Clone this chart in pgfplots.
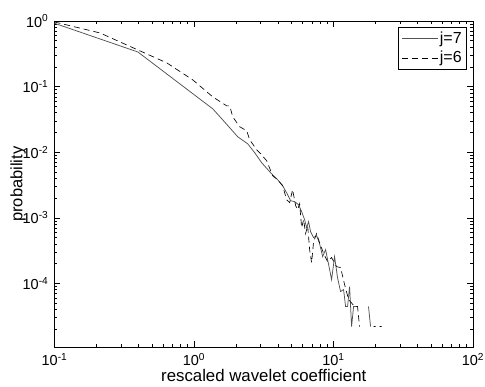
\documentclass[border=0pt]{standalone}
\usepackage{fontspec}
\setmainfont{Liberation Sans}
\usepackage{pgfplots}
\pgfplotsset{compat=1.18}
\begin{document}
\begin{tikzpicture}
\useasboundingbox (-54.5pt,-38.7pt) rectangle (430.5pt,347.3pt);
\begin{axis}[
  at={(0,0)}, anchor=south west,
  scale only axis, width=418.5pt, height=326.3pt,
  xmode=log, ymode=log, log basis x=10, log basis y=10,
  xmin=0.1, xmax=100, ymin=1.06e-5, ymax=1,
  axis line style={line width=0.7pt},
  tick style={black, line width=0.5pt},
  major tick length=6pt, minor tick length=3pt,
  tick align=inside,
  xticklabel={\pgfmathparse{int(round(\tick))}10\textsuperscript{\pgfmathresult}},
  yticklabel={\pgfmathparse{int(round(\tick))}10\textsuperscript{\pgfmathresult}},
  xticklabel style={font=\fontsize{14.5}{17}\selectfont, anchor=base, inner sep=0pt, yshift=-18pt},
  yticklabel style={font=\fontsize{14.5}{17}\selectfont, anchor=east, inner sep=0pt, xshift=-6pt},
  xlabel={rescaled wavelet coefficient},
  ylabel={probability},
  xlabel style={font=\fontsize{16.8}{19}\selectfont, at={(axis description cs:0.5,0)}, anchor=base, inner sep=0pt, yshift=-34pt},
  every axis y label/.style={font=\fontsize{16.5}{19}\selectfont, at={(axis description cs:-0.068,0.5)}, rotate=90, anchor=south, inner sep=0pt},
  unbounded coords=jump,
  legend style={at={(1,1)}, anchor=north east, xshift=-6pt, yshift=-6pt,
    font=\fontsize{16}{19}\selectfont, draw=black, line width=0.6pt,
    inner xsep=3pt, inner ysep=3pt, row sep=2pt},
  legend cell align=left,
  legend image code/.code={\draw[#1] (0pt,0pt) -- (36pt,0pt);},
]
\addplot[black!68, line width=0.75pt] coordinates {
(0.1,0.923)(0.396,0.337)(1.363,0.0458)(1.607,0.0311)(2.06,0.01715)(2.427,0.01342)
(2.725,0.0098)(3.057,0.0069)(3.488,0.00504)(3.98,0.0038)(4.32,0.00308)(4.61,0.00241)
(4.93,0.00182)(5.27,0.00176)(5.62,0.00158)(5.91,0.00124)(6.21,0.000935)(6.42,0.000706)
(6.63,0.000873)(6.85,0.000615)(7.20,0.000498)(7.57,0.000534)(7.95,0.000404)(8.36,0.000256)
(8.78,0.000327)(9.23,0.000193)(9.69,0.000114)(10.18,0.000256)(10.69,0.000122)(11.24,0.000075)
(11.81,0.0000805)(12.21,0.0000444)(12.62,0.0000444)(13.04,0.0000893)(13.48,0.000022)
(13.93,0.0000444)(14.63,0.0000444)(15.0,nan)(17.82,0.0000444)(18.44,0.000022)
};
\addlegendentry{j=7}
\addplot[black, line width=0.65pt, dash pattern=on 6pt off 4pt] coordinates {
(0.1,0.966)(0.212,0.657)(0.396,0.362)(0.639,0.2296)(0.980,0.1265)(1.363,0.0697)
(1.717,0.0508)(1.804,0.0508)(1.896,0.0346)(2.127,0.0244)(2.388,0.0212)(2.508,0.01545)
(2.816,0.01088)(3.006,0.00946)(3.32,0.0074)(3.665,0.00437)(3.98,0.0038)(4.32,0.00308)
(4.61,0.00189)(4.85,0.0017)(5.09,0.00268)(5.355,0.00153)(5.53,0.00133)(5.72,0.00164)
(5.91,0.000706)(6.11,0.000935)(6.31,0.000573)(6.53,0.000758)(6.745,0.000327)(6.97,0.000207)
(7.20,0.000433)(7.57,0.000573)(7.95,0.000418)(8.50,0.000284)(9.08,0.000215)(9.69,0.000247)
(10.52,0.00018)(11.24,0.000174)(12.01,0.0000959)(12.83,0.0000566)(14.16,0.0000444)
(14.87,0.0000444)(15.37,0.000022)(16,nan)(19.37,0.000022)(20.01,0.000022)(20.5,nan)
(21.4,0.000022)(22.1,0.000022)
};
\addlegendentry{j=6}
\end{axis}
\end{tikzpicture}
\end{document}
